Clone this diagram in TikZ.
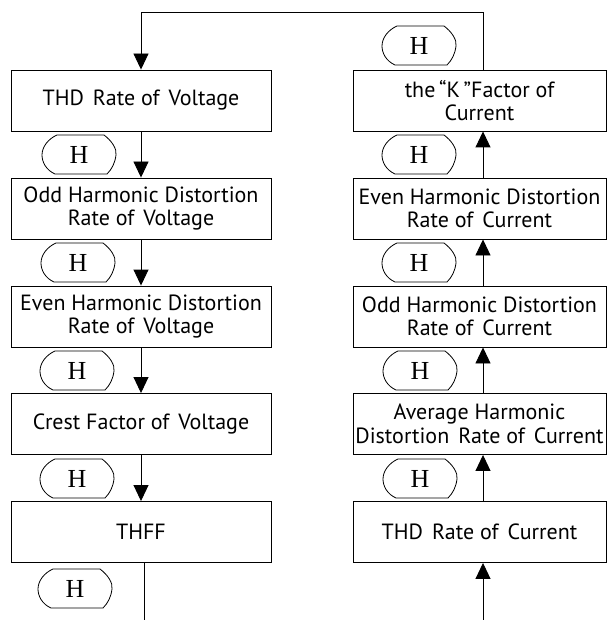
\documentclass[tikz,border=0pt]{standalone}
\usepackage{fontspec}
\setmainfont{PT Sans}
\newfontfamily\hfont{Liberation Serif}
\usetikzlibrary{arrows.meta}
\newcommand\wsp{\hspace{9pt}}
\begin{document}
\begin{tikzpicture}[x=1pt,y=-1pt,
  line width=0.9pt,
  stepbox/.style={draw, rectangle, minimum height=61pt, inner sep=0pt,
    align=center, font=\fontsize{22}{23.5}\selectfont},
  lbox/.style={stepbox, minimum width=260pt},
  rbox/.style={stepbox, minimum width=253pt},
  arr/.style={-{Triangle[width=15pt,length=16pt]}},
  hkey/.pic={
    \draw[line width=0.8pt] (15,0) -- (62,0) .. controls (70,6) and (75,14) .. (74,20)
      .. controls (73,28) and (70,34) .. (65,39) -- (13,39)
      .. controls (4,35) and (0,27) .. (0,20) .. controls (0,12) and (6,4) .. (15,0) -- cycle;
    \node[font=\hfont\fontsize{26}{26}\selectfont, inner sep=0pt] (-t) at (37,20) {H};
  }]
\useasboundingbox (0,0) rectangle (608,620);
% left column
\node[lbox] (l1) at (141,100.5) {THD\wsp Rate of\wsp Voltage};
\node[lbox] (l2) at (141,208.5) {Odd Harmonic Distortion\\Rate of\wsp Voltage};
\node[lbox] (l3) at (141,316.5) {Even Harmonic Distortion\\Rate of\wsp Voltage};
\node[lbox] (l4) at (141,424) {Crest Factor of\wsp Voltage};
\node[lbox] (l5) at (141,532) {THFF};
% right column
\node[rbox] (r1) at (479.5,100.5) {the\,“K\,”Factor of\\Current};
\node[rbox] (r2) at (479.5,208.5) {Even Harmonic Distortion\\Rate of\wsp Current};
\node[rbox] (r3) at (479.5,316.5) {Odd Harmonic Distortion\\Rate of\wsp Current};
\node[rbox] (r4) at (479.5,424) {Average Harmonic\\Distortion\wsp Rate of\wsp Current};
\node[rbox] (r5) at (479.5,532) {THD\wsp Rate of\wsp Current};
% H keys
\pic (hl1) at (42,135) {hkey};
\pic (hl2) at (41,243) {hkey};
\pic (hl3) at (40,351) {hkey};
\pic (hl4) at (40,459) {hkey};
\pic (hl5) at (38,569) {hkey};
\pic (hr0) at (382,26) {hkey};
\pic (hr1) at (382,135) {hkey};
\pic (hr2) at (382,243) {hkey};
\pic (hr3) at (383,351) {hkey};
\pic (hr4) at (383,459) {hkey};
% coordinates
\coordinate (ctl) at (141,12);
\coordinate (ctr) at (483,12);
\coordinate (lb) at (144,620);
\coordinate (rb) at (483,620);
% left connectors
\draw[arr] (l1.south) -- (l2.north);
\draw[arr] (l2.south) -- (l3.north);
\draw[arr] (l3.south) -- (l4.north);
\draw[arr] (l4.south) -- (l5.north);
\draw (l5.south -| lb) -- (lb);
% right connectors
\draw[arr] (rb) -- (r5.south -| rb);
\draw[arr] (r5.north -| rb) -- (r4.south -| rb);
\draw[arr] (r4.north -| rb) -- (r3.south -| rb);
\draw[arr] (r3.north -| rb) -- (r2.south -| rb);
\draw[arr] (r2.north -| rb) -- (r1.south -| rb);
\draw[arr] (r1.north -| ctr) -- (ctr) -- (ctl) -- (l1.north);
\end{tikzpicture}
\end{document}
